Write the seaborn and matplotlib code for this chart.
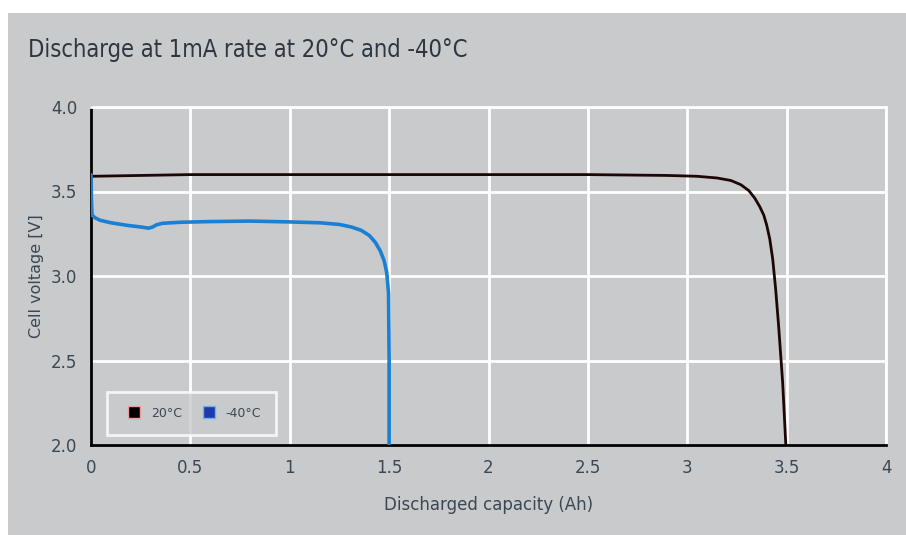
import numpy as np
import pandas as pd
import matplotlib
matplotlib.use('Agg')
import matplotlib.pyplot as plt
from matplotlib.lines import Line2D
from matplotlib.patches import Rectangle
import seaborn as sns

# discharge curves
cap_20 = [0, 0.5, 1.0, 1.5, 2.0, 2.5, 2.9, 3.05, 3.15, 3.22, 3.27, 3.31,
          3.34, 3.365, 3.385, 3.40, 3.415, 3.43, 3.445, 3.46, 3.48, 3.496]
volt_20 = [3.59, 3.60, 3.60, 3.60, 3.60, 3.60, 3.595, 3.59, 3.58, 3.565, 3.54, 3.505,
           3.46, 3.41, 3.36, 3.30, 3.22, 3.10, 2.92, 2.70, 2.37, 2.0]

cap_m40 = [0, 0.002, 0.005, 0.02, 0.045, 0.1, 0.18, 0.25, 0.29, 0.31, 0.33, 0.36,
           0.45, 0.6, 0.8, 1.0, 1.15, 1.25, 1.31, 1.36, 1.40, 1.43, 1.455, 1.475,
           1.488, 1.497, 1.50, 1.50]
volt_m40 = [3.60, 3.45, 3.36, 3.345, 3.33, 3.315, 3.30, 3.29, 3.283, 3.29, 3.303, 3.312,
            3.318, 3.322, 3.325, 3.32, 3.315, 3.305, 3.29, 3.27, 3.24, 3.20, 3.15, 3.09,
            3.02, 2.9, 2.5, 2.0]

x_ticks = [0, 0.5, 1, 1.5, 2, 2.5, 3, 3.5, 4]
x_labels = ['0', '0.5', '1', '1.5', '2', '2.5', '3', '3.5', '4']
y_ticks = [2.0, 2.5, 3.0, 3.5, 4.0]

bg = '#c8cacc'
txt = '#3b4853'
dark = '#1c0606'
blue = '#1b7fd2'

sns.set_theme(style='whitegrid')
plt.rcParams['font.family'] = ['DejaVu Sans']

fig = plt.figure(figsize=(9.06, 5.35), dpi=100)
fig.patch.set_facecolor('white')
fig.patches.append(Rectangle((8 / 906, 0), 1, 1 - 13 / 535, transform=fig.transFigure,
                             facecolor=bg, edgecolor='none', zorder=-10))

ax = fig.add_axes([91 / 906, 1 - 445 / 535, 795 / 906, 338 / 535])
ax.set_facecolor(bg)

df20 = pd.DataFrame({'cap': cap_20, 'volt': volt_20})
dfm40 = pd.DataFrame({'cap': cap_m40, 'volt': volt_m40})
sns.lineplot(data=df20, x='cap', y='volt', ax=ax, sort=False, estimator=None,
             color=dark, linewidth=2.0, zorder=3)
sns.lineplot(data=dfm40, x='cap', y='volt', ax=ax, sort=False, estimator=None,
             color=blue, linewidth=2.6, zorder=3)

ax.set_xlim(0, 4)
ax.set_ylim(2.0, 4.0)
ax.set_xticks(x_ticks)
ax.set_xticklabels(x_labels)
ax.set_yticks(y_ticks)
ax.set_yticklabels([f'{v:.1f}' for v in y_ticks])
ax.grid(True, color='white', linewidth=2)
ax.tick_params(axis='both', length=0, labelsize=12, colors=txt, pad=10)

for side in ['left', 'bottom']:
    ax.spines[side].set_color('black')
    ax.spines[side].set_linewidth(2)
for side in ['top', 'right']:
    ax.spines[side].set_color('white')
    ax.spines[side].set_linewidth(2)

ax.set_xlabel('Discharged capacity (Ah)', fontsize=12, color=txt, labelpad=14)
ax.set_ylabel('Cell voltage [V]', fontsize=11.5, color=txt, labelpad=5)

fig.text(28 / 906, 1 - 50 / 535, 'Discharge at 1mA rate at 20°C and -40°C',
         fontsize=17, color='#2e3740', va='center', ha='left', fontstretch='condensed')

handles = [Line2D([], [], marker='s', linestyle='none', markersize=8,
                  markerfacecolor='black', markeredgecolor='#e8a0a0', label='20°C'),
           Line2D([], [], marker='s', linestyle='none', markersize=8,
                  markerfacecolor='#2038a8', markeredgecolor='#60b8f0', label='-40°C')]
leg = ax.legend(handles=handles, loc='lower left', bbox_to_anchor=(0.02, 0.03),
                borderaxespad=0, ncol=2, frameon=True, fontsize=9, handletextpad=0.3,
                columnspacing=1.2, borderpad=1.2, fancybox=False)
leg.get_frame().set_facecolor(bg)
leg.get_frame().set_edgecolor('white')
leg.get_frame().set_linewidth(2)
for t in leg.get_texts():
    t.set_color(txt)

fig.savefig('out.png', dpi=100, facecolor=fig.get_facecolor())
